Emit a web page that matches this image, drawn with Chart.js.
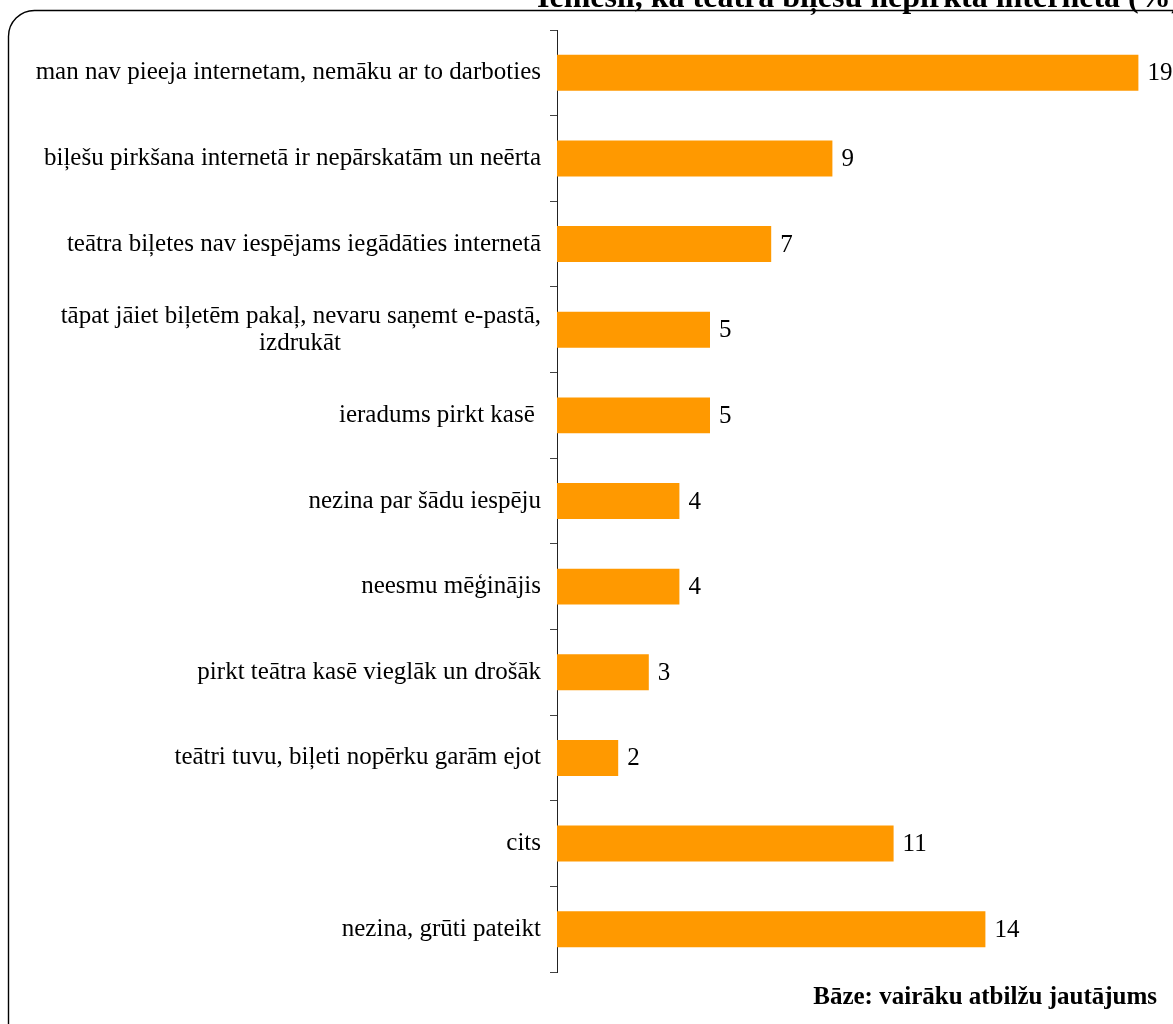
<!DOCTYPE html>
<html>
<head>
<meta charset="utf-8">
<script src="https://cdn.jsdelivr.net/npm/chart.js@4"></script>
<style>
  html, body { margin: 0; padding: 0; background: #fff; }
  #wrap { width: 1173px; height: 1024px; }
</style>
</head>
<body>
<div id="wrap"><canvas id="iemesli" width="1173" height="1024"></canvas></div>
<script>
const kategorijas = [
    'man nav pieeja internetam, nemāku ar to darboties',
    'biļešu pirkšana internetā ir nepārskatām un neērta',
    'teātra biļetes nav iespējams iegādāties internetā',
    ['tāpat jāiet biļetēm pakaļ, nevaru saņemt e-pastā,', 'izdrukāt'],
    'ieradums pirkt kasē ',
    'nezina par šādu iespēju',
    'neesmu mēģinājis',
    'pirkt teātra kasē vieglāk un drošāk',
    'teātri tuvu, biļeti nopērku garām ejot',
    'cits',
    'nezina, grūti pateikt'
]
const procenti = [19, 9, 7, 5, 5, 4, 4, 3, 2, 11, 14]
const virsraksts = 'Iemesli, kā teātra biļešu nepirkta internetā (%)'
const baze = 'Bāze: vairāku atbilžu jautājums'

const fonts = '"Liberation Serif", "Times New Roman", serif'

// lai otrā rindiņa būtu centrēta zem pirmās
const mer = document.createElement('canvas').getContext('2d')
mer.font = '25px ' + fonts
function centreRindas(lbl) {
    if (!Array.isArray(lbl)) return lbl
    const w = lbl.map(l => mer.measureText(l).width)
    const max = Math.max(...w)
    const sp = mer.measureText('\u00A0').width
    return lbl.map((l, i) => l + '\u00A0'.repeat(Math.round((max - w[i]) / 2 / sp)))
}

// rāmis, virsraksts, bāze un vērtības pie stabiņiem
const zimejums = {
    id: 'zimejums',
    beforeDraw(chart) {
        const ctx = chart.ctx
        ctx.save()
        ctx.strokeStyle = '#000'
        ctx.lineWidth = 1.4
        ctx.beginPath()
        ctx.moveTo(8.5, 1100)
        ctx.lineTo(8.5, 36)
        ctx.arcTo(8.5, 10.5, 34, 10.5, 26)
        ctx.lineTo(1200, 10.5)
        ctx.stroke()
        ctx.restore()
    },
    afterDraw(chart) {
        const ctx = chart.ctx
        ctx.save()
        ctx.fillStyle = '#000'
        ctx.font = 'bold 32px ' + fonts
        ctx.textAlign = 'left'
        ctx.textBaseline = 'alphabetic'
        ctx.fillText(virsraksts, 537, 7)

        ctx.font = 'bold 25px ' + fonts
        ctx.textAlign = 'right'
        ctx.fillText(baze, 1157, 1004)

        ctx.font = '25px ' + fonts
        ctx.textAlign = 'left'
        ctx.textBaseline = 'middle'
        const meta = chart.getDatasetMeta(0)
        meta.data.forEach((bar, i) => {
            ctx.fillText(procenti[i], bar.x + 9, bar.y + 1)
        })
        ctx.restore()
    }
}

const iemesli = document.getElementById('iemesli').getContext('2d')

new Chart(iemesli, {
    type: 'bar',
    data: {
        labels: kategorijas,
        datasets: [{
            data: procenti,
            backgroundColor: '#FF9900',
            borderWidth: 0,
            barPercentage: 0.42,
            categoryPercentage: 1
        }]
    },
    plugins: [zimejums],
    options: {
        indexAxis: 'y',
        responsive: false,
        animation: false,
        layout: {
            padding: { top: 30, bottom: 52, left: 0, right: 4 }
        },
        scales: {
            x: {
                display: false,
                min: 0,
                max: 20
            },
            y: {
                afterFit(scale) { scale.width = 557 },
                grid: {
                    offset: true,
                    drawOnChartArea: false,
                    drawTicks: true,
                    tickLength: 7,
                    color: '#444'
                },
                border: { color: '#222', width: 1 },
                ticks: {
                    color: '#000',
                    padding: 9,
                    font: { family: fonts, size: 25, lineHeight: 1.08 },
                    callback(value) {
                        return centreRindas(this.getLabelForValue(value))
                    }
                }
            }
        },
        plugins: {
            legend: { display: false },
            tooltip: { enabled: false }
        }
    }
});
</script>
</body>
</html>
